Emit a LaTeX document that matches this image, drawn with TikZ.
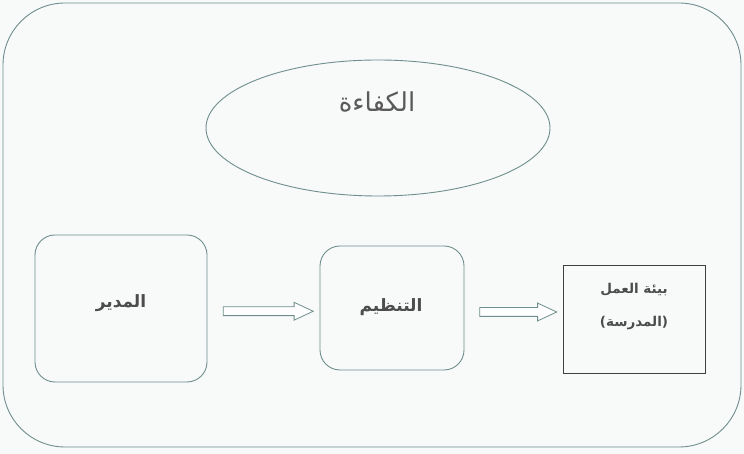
\documentclass[tikz,border=0pt]{standalone}
\usepackage{fontspec}
\newfontfamily\arabicfont[Script=Arabic]{DejaVu Sans}
\TeXXeTstate=1
\usetikzlibrary{shapes.arrows,shapes.geometric,calc}
\definecolor{linec}{HTML}{6E8F8C}
\definecolor{textc}{HTML}{5A5A5A}
\definecolor{bgc}{HTML}{F8F9F9}
\tikzset{
  x=1pt, y=1pt,
  outerbox/.style={draw=linec, line width=0.9pt, rounded corners=62pt},
  roundbox/.style={draw=linec, line width=0.9pt, rounded corners=20pt, inner sep=0pt},
  squarebox/.style={draw=black!75, line width=0.9pt, inner sep=0pt},
  label/.style={text=textc, font=\arabicfont},
  blockarrow/.style={single arrow, draw=linec, line width=0.8pt, fill=white,
    minimum width=17pt, single arrow head extend=4.5pt, single arrow tip angle=50,
    inner sep=0pt, inner ysep=4pt},
}
\begin{document}
\begin{tikzpicture}
\useasboundingbox[fill=bgc] (0,0) rectangle (744,454);
\draw[outerbox] (3,451) rectangle (741,7);
\node[draw=linec, line width=0.9pt, ellipse, minimum width=344pt, minimum height=136pt] (e) at (378,326) {};
\node[label, font=\arabicfont\fontsize{26}{30}\selectfont] (et) at (377,352) {\beginR الكفاءة\endR};
\node[roundbox, minimum width=172pt, minimum height=147pt] (m) at (121,145.5) {};
\node[label, text=black!70, font=\arabicfont\bfseries\fontsize{17}{20}\selectfont] (mt) at (121,151) {\beginR المدير\endR};
\node[roundbox, minimum width=144pt, minimum height=124pt] (t) at (392,146) {};
\node[label, text=black!70, font=\arabicfont\bfseries\fontsize{17}{20}\selectfont] (tt) at (391,147) {\beginR التنظيم\endR};
\node[squarebox, minimum width=142pt, minimum height=108pt] (b) at (634,135) {};
\node[label, text=black!70, font=\arabicfont\bfseries\fontsize{13.5}{33}\selectfont, align=center] (bt) at (634,147.5) {\beginR بيئة العمل\endR\\\beginR (المدرسة)\endR};
\node[blockarrow, minimum height=90pt] (a1) at ($(m.east)!0.5!(t.west)+(0,-3)$) {};
\node[blockarrow, minimum height=77pt] (a2) at ($(t.east)!0.5!(b.west)+(0,1.5)$) {};
\end{tikzpicture}
\end{document}
